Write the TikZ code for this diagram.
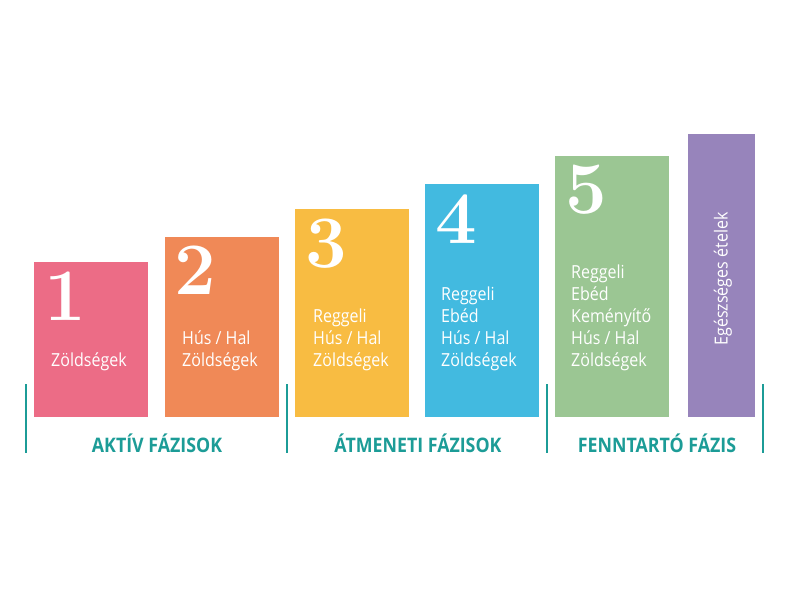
\documentclass[tikz,border=0pt]{standalone}
\usepackage{fontspec}
\newfontfamily\osans{Open Sans}[FakeStretch=0.89]
\definecolor{cpink}{HTML}{EC6C86}
\definecolor{corange}{HTML}{F08957}
\definecolor{cyellow}{HTML}{F8BC42}
\definecolor{cblue}{HTML}{42BAE0}
\definecolor{cgreen}{HTML}{9BC693}
\definecolor{cpurple}{HTML}{9784BB}
\definecolor{cteal}{HTML}{1C9C97}
\tikzset{
  bar/.style={draw=none, inner sep=0, anchor=north west, minimum width=114pt},
  num/.style={inner sep=0, anchor=base west, text=white, font=\rmfamily\bfseries\fontsize{74}{74}\selectfont},
  txt/.style={inner sep=0, anchor=base west, text=white, font=\osans\fontsize{18}{22}\selectfont},
  phase/.style={inner sep=0, anchor=base, text=cteal, font=\osans\bfseries\fontsize{20}{24}\selectfont},
  sep/.style={draw=cteal, line width=2pt}
}
\newcommand{\lines}[1]{\begin{tabular}[b]{@{}l@{}}#1\end{tabular}}
\begin{document}
\begin{tikzpicture}[x=1pt,y=-1pt]
\useasboundingbox[fill=white] (0,0) rectangle (800,600);
% bars
\node[bar, fill=cpink,   minimum height=155pt] (b1) at (34,262) {};
\node[bar, fill=corange, minimum height=180pt] (b2) at (165,237) {};
\node[bar, fill=cyellow, minimum height=208pt] (b3) at (295,209) {};
\node[bar, fill=cblue,   minimum height=233pt] (b4) at (425,184) {};
\node[bar, fill=cgreen,  minimum height=261pt] (b5) at (555,156) {};
\node[bar, fill=cpurple, minimum height=283pt, minimum width=67pt] (b6) at (688,134) {};
% numbers
\node[num] (n1) at (44,320) {1};
\node[num] (n2) at (174,294) {2};
\node[num] (n3) at (305,267) {3};
\node[num] (n4) at (435,243) {4};
\node[num] (n5) at (565,213) {5};
% texts
\node[txt] (t1) at (51,366) {\lines{Zöldségek}};
\node[txt] (t2) at (182,366) {\lines{Hús / Hal\\Zöldségek}};
\node[txt] (t3) at (313,366) {\lines{Reggeli\\Hús / Hal\\Zöldségek}};
\node[txt] (t4) at (441,366) {\lines{Reggeli\\Ebéd\\Hús / Hal\\Zöldségek}};
\node[txt] (t5) at (571,366) {\lines{Reggeli\\Ebéd\\Keményítő\\Hús / Hal\\Zöldségek}};
\node[inner sep=0, text=white, font=\osans\fontsize{18}{22}\selectfont, rotate=90] (t6) at (723,279) {Egészséges ételek};
% separators
\draw[sep] (26,384) -- (26,453);
\draw[sep] (287,384) -- (287,453);
\draw[sep] (547,384) -- (547,453);
\draw[sep] (763,384) -- (763,453);
% phase labels
\node[phase] (p1) at (157,452) {AKTÍV FÁZISOK};
\node[phase] (p2) at (418,452) {ÁTMENETI FÁZISOK};
\node[phase] (p3) at (657,452) {FENNTARTÓ FÁZIS};
\end{tikzpicture}
\end{document}
